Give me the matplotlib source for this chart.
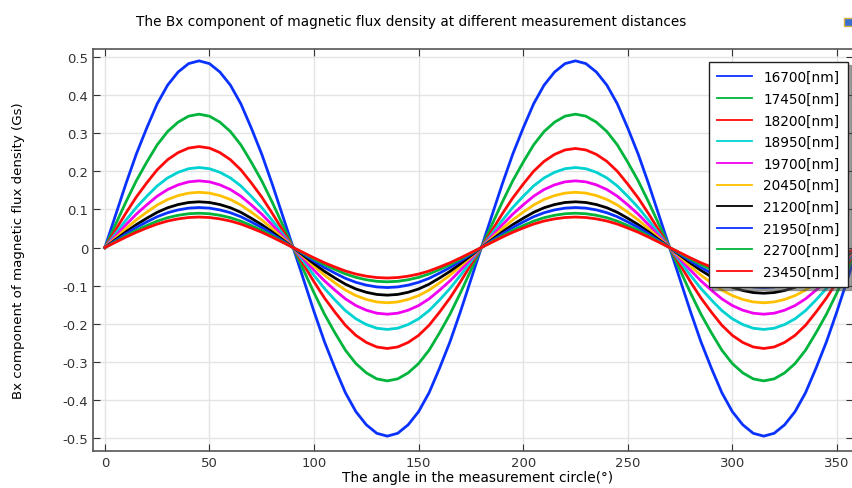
import numpy as np
import matplotlib
matplotlib.use("Agg")
from matplotlib import pyplot as plt
from matplotlib.patches import Rectangle

# angle samples (deg) and normalised waveform for one quarter-wave (0..90 deg)
angles = list(range(0, 361, 5))
shape_half = [0, 0.17, 0.34, 0.50, 0.64, 0.77, 0.87, 0.94, 0.985, 1.0,
              0.985, 0.94, 0.87, 0.77, 0.64, 0.50, 0.34, 0.17, 0]

labels = ['16700[nm]', '17450[nm]', '18200[nm]', '18950[nm]', '19700[nm]',
          '20450[nm]', '21200[nm]', '21950[nm]', '22700[nm]', '23450[nm]']
colors_ = ['#0a32ff', '#00b43c', '#ff0a0a', '#00d2d2', '#f000f0',
           '#ffc000', '#000000', '#0a32ff', '#00b43c', '#ff0a0a']
# peak values at 45, 135, 225, 315 deg
peaks = [
    [0.49, -0.495, 0.49, -0.495],
    [0.35, -0.35, 0.35, -0.35],
    [0.265, -0.265, 0.26, -0.265],
    [0.21, -0.215, 0.21, -0.215],
    [0.175, -0.175, 0.175, -0.175],
    [0.145, -0.145, 0.145, -0.145],
    [0.12, -0.125, 0.12, -0.12],
    [0.105, -0.105, 0.105, -0.105],
    [0.09, -0.09, 0.09, -0.09],
    [0.08, -0.08, 0.08, -0.08],
]

def build(pk):
    vals = [0.0]
    for q in range(4):
        vals += [pk[q] * s for s in shape_half[1:]]
    return vals

fig = plt.figure(figsize=(8.53, 4.89), dpi=100)
ax = fig.add_axes([0.109, 0.0757, 0.891, 0.822])

for lab, c, pk in zip(labels, colors_, peaks):
    ax.plot(angles, build(pk), color=c, lw=2.0, label=lab)

ax.set_xlim(-5.7, 357.7)
ax.set_ylim(-0.534, 0.521)
ax.set_xticks([0, 50, 100, 150, 200, 250, 300, 350])
ax.set_yticks([-0.5, -0.4, -0.3, -0.2, -0.1, 0, 0.1, 0.2, 0.3, 0.4, 0.5])
ax.set_yticklabels(['-0.5', '-0.4', '-0.3', '-0.2', '-0.1', '0', '0.1', '0.2', '0.3', '0.4', '0.5'])
ax.grid(True, color='#e4e4e4', lw=1.0)
ax.set_axisbelow(True)
ax.tick_params(direction='in', top=True, right=True, length=5, labelsize=9.5, colors='#333333')
for sp in ax.spines.values():
    sp.set_color('#555555')
    sp.set_linewidth(1.2)

ax.set_xlabel('The angle in the measurement circle(°)', fontsize=9.9)
ax.xaxis.set_label_coords(0.506, -0.048)
ax.set_ylabel('Bx component of magnetic flux density (Gs)', fontsize=9.6)
ax.yaxis.set_label_coords(-0.089, 0.5)
fig.text(0.482, 0.955, 'The Bx component of magnetic flux density at different measurement distances',
         ha='center', va='center', fontsize=9.85)

leg = ax.legend(loc='upper right', bbox_to_anchor=(0.994, 0.871), bbox_transform=fig.transFigure,
                borderaxespad=0, fontsize=9.8, fancybox=False, shadow=True, framealpha=1,
                edgecolor='#222222', handlelength=2.6, labelspacing=0.56, borderpad=0.6)
leg.get_frame().set_linewidth(1.0)
for h in leg.get_lines():
    h.set_linewidth(1.3)

# small toolbar icon in the top-right corner
fig.add_artist(Rectangle((0.989, 0.945), 0.015, 0.017, transform=fig.transFigure,
                         facecolor='#3a6fd0', edgecolor='#d8b040', lw=1))

fig.savefig('out.png', dpi=100)
